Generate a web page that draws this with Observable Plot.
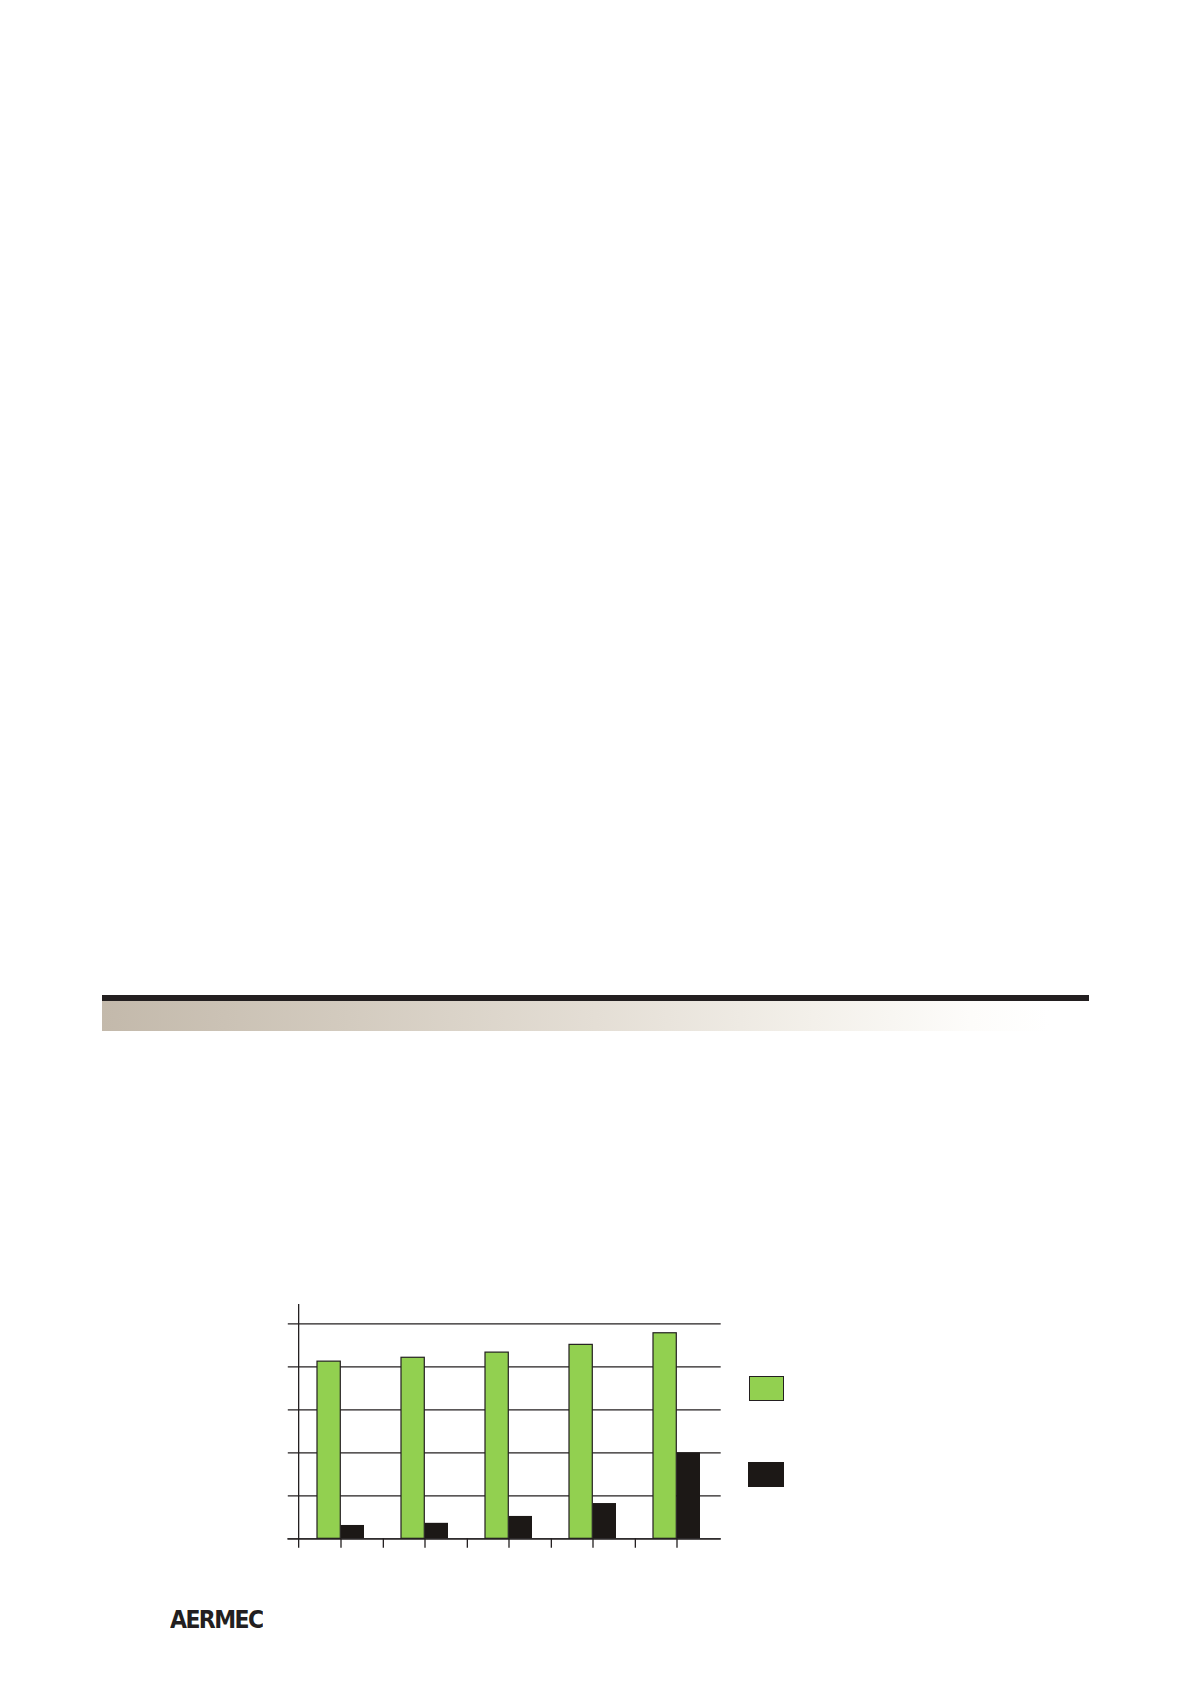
<!DOCTYPE html>
<html>
<head>
<meta charset="utf-8">
<script src="https://cdn.jsdelivr.net/npm/d3@7"></script>
<script src="https://cdn.jsdelivr.net/npm/@observablehq/plot@0.6"></script>
<style>
html, body { margin: 0; padding: 0; background: #fff; }
#page { position: relative; width: 1190px; height: 1684px; overflow: hidden; background: #fff; }
.hdr-line { position: absolute; left: 102px; top: 995px; width: 987px; height: 6px; background: #231f20; }
.hdr-grad { position: absolute; left: 102px; top: 1001px; width: 987px; height: 30px;
  background: linear-gradient(to right, #c3b9ab 0%, #d3cbbf 25%, #e4ded5 50%, #f3f0ea 72%, #fdfcfa 88%, #ffffff 96%); }
#chart { position: absolute; left: 0; top: 1280px; }
.sw { position: absolute; box-sizing: border-box; }
.logo { position: absolute; left: 170px; top: 1608px; font-family: "DejaVu Sans", sans-serif;
  font-weight: bold; font-size: 22px; letter-spacing: -1.6px; color: #231f20; line-height: 1;
  transform: scaleY(1.1); transform-origin: left top; }
</style>
</head>
<body>
<div id="page">
  <div class="hdr-line"></div>
  <div class="hdr-grad"></div>
  <div id="chart"></div>
  <div id="legend"></div>
  <div class="logo">AERMEC</div>
</div>
<script>
// ---- data ----
const categories = ["1", "2", "3", "4", "5"];
const seriesNames = ["Serie 1", "Serie 2"];
const seriesGreen = [4.12, 4.21, 4.33, 4.51, 4.78];
const seriesBlack = [0.31, 0.36, 0.52, 0.82, 2.0];
const yTicks = [0, 1, 2, 3, 4, 5];
const colors = ["#92d050", "#1c1816"];

const greenData = categories.map((c, i) => ({cat: c, v: seriesGreen[i]}));
const blackData = categories.map((c, i) => ({cat: c, v: seriesBlack[i]}));

// ---- layout ----
const W = 1190, H = 300;
const mLeft = 297.3, mRight = W - 720.7, mTop = 43.3, mBottom = 41.7;
const plotW = W - mLeft - mRight;
const frameH = H - mTop - mBottom;
const padIn = 0.44, padOut = 0.22;
const step = plotW / (categories.length - padIn + 2 * padOut);
const bw = step * (1 - padIn);
const ink = "#231f20";

const chart = Plot.plot({
  width: W,
  height: H,
  marginLeft: mLeft,
  marginRight: mRight,
  marginTop: mTop,
  marginBottom: mBottom,
  style: {background: "transparent", overflow: "visible"},
  x: {type: "band", domain: categories, paddingInner: padIn, paddingOuter: padOut, axis: null},
  y: {domain: [0, 5], axis: null},
  marks: [
    Plot.ruleY(yTicks, {y: d => d, stroke: ink, strokeWidth: 1.3, insetLeft: -9.5}),
    Plot.barY(greenData, {x: "cat", y: "v", fill: colors[0], stroke: ink, strokeWidth: 1.2, insetRight: bw / 2}),
    Plot.barY(blackData, {x: "cat", y: "v", fill: colors[1], insetLeft: bw / 2}),
    Plot.ruleY([0], {y: d => d, stroke: ink, strokeWidth: 1.3, insetLeft: -10}),
    // vertical axis line
    Plot.ruleX(categories.slice(0, 1), {x: d => d, dx: -step / 2, stroke: ink, strokeWidth: 1.3, insetTop: -19.3, insetBottom: -9.4}),
    // ticks at band centres
    Plot.ruleX(categories, {x: d => d, stroke: ink, strokeWidth: 1.3, insetTop: frameH, insetBottom: -9.4}),
    // ticks at band boundaries
    Plot.ruleX(categories.slice(0, -1), {x: d => d, dx: step / 2, stroke: ink, strokeWidth: 1.3, insetTop: frameH, insetBottom: -9.4})
  ]
});
document.getElementById("chart").appendChild(chart);

// ---- legend swatches ----
const legend = document.getElementById("legend");
const swatches = [
  {name: seriesNames[0], color: colors[0], left: 749, top: 1376, w: 35, h: 25, border: "1.5px solid " + ink},
  {name: seriesNames[1], color: colors[1], left: 748, top: 1462, w: 36, h: 25, border: "none"}
];
swatches.forEach(s => {
  const d = document.createElement("div");
  d.className = "sw";
  d.title = s.name;
  d.style.left = s.left + "px";
  d.style.top = s.top + "px";
  d.style.width = s.w + "px";
  d.style.height = s.h + "px";
  d.style.background = s.color;
  d.style.border = s.border;
  legend.appendChild(d);
});
</script>
</body>
</html>
